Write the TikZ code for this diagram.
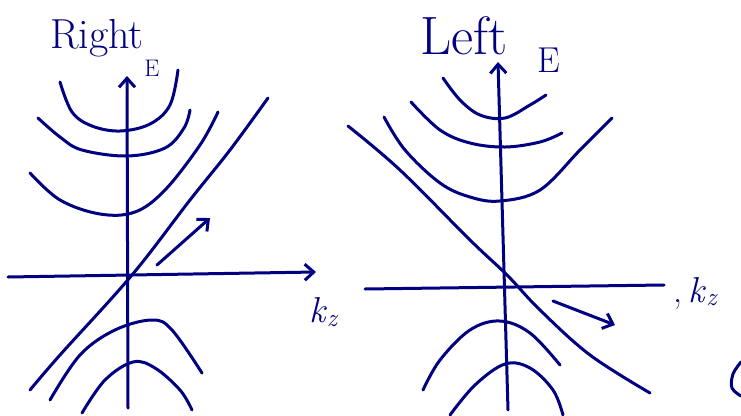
\documentclass[tikz,border=0pt]{standalone}
\usepackage{tikz}
\usetikzlibrary{arrows.meta,positioning}
\definecolor{ink}{RGB}{0,0,128}

\begin{document}
\begin{tikzpicture}[x=1pt,y=-1pt,
  every node/.style={text=ink},
  pen/.style={draw=ink, line width=3pt, line cap=round, line join=round},
  axis/.style={pen, -{Straight Barb[length=9pt,width=16pt]}},
  band/.style={pen, smooth, tension=0.6},
  >=Stealth
]
\useasboundingbox (0,0) rectangle (741,415);

% Right panel: axes
\coordinate (rEbot) at (128,408);
\coordinate (rEtop) at (127,76);
\coordinate (rKl) at (8,277);
\coordinate (rKr) at (316,272);
\draw[axis] (rEbot) -- (rEtop);
\draw[axis] (rKl) -- (rKr);
\node[font=\fontsize{42}{42}\selectfont] (rtitle) at (97,38) {Right};
\node[font=\fontsize{24}{24}\selectfont] (rE) at (152,68) {E};
\node[font=\fontsize{36}{36}\selectfont] (rk) at (324,312) {\textit{k}\textsubscript{\textit{z}}};

% Right panel: bands
\draw[band] plot coordinates {(60,82) (72,112) (92,126) (120,131) (150,124) (170,105) (178,70)};
\draw[band] plot coordinates {(38,118) (60,137) (82,150) (127,156) (165,148) (184,128) (190,110)};
\draw[band] plot coordinates {(30,173) (60,200) (100,214) (135,212) (165,190) (200,145) (218,112)};
\draw[band] plot coordinates {(268,98) (230,150) (190,200) (132,275) (60,355) (30,390)};
\draw[band] plot coordinates {(50,400) (80,355) (115,330) (152,320) (172,330) (202,373)};
\draw[band] plot coordinates {(82,413) (105,380) (133,362) (155,368) (180,390) (192,410)};

% Right panel: direction
\coordinate (ra) at (157,265);
\coordinate (rb) at (210,218);
\draw[axis] (ra) -- (rb);

% Left panel: axes
\coordinate (lEbot) at (508,410);
\coordinate (lEtop) at (498,62);
\coordinate (lKl) at (365,289);
\coordinate (lKr) at (664,285);
\draw[axis] (lEbot) -- (lEtop);
\draw[pen] (lKl) -- (lKr);
\node[font=\fontsize{54}{54}\selectfont] (ltitle) at (464,36) {Left};
\node[font=\fontsize{36}{36}\selectfont] (lE) at (549,60) {E};
\node[font=\fontsize{36}{36}\selectfont, anchor=west] (lk) at (670,293) {,\,\textit{k}\textsubscript{\textit{z}}};

% Left panel: bands
\draw[band] plot coordinates {(443,78) (460,100) (480,115) (505,118) (530,105) (546,95)};
\draw[band] plot coordinates {(411,102) (440,130) (470,143) (505,147) (540,142) (562,133)};
\draw[band] plot coordinates {(384,117) (405,150) (440,183) (470,197) (500,201) (540,190) (580,150) (612,118)};
\draw[band] plot coordinates {(348,126) (400,170) (470,240) (507,275) (540,310) (590,355) (650,393)};
\draw[band] plot coordinates {(423,390) (440,360) (470,330) (500,321) (530,333) (560,365)};
\draw[band] plot coordinates {(450,415) (475,385) (505,364) (530,368) (553,390) (563,415)};

% Left panel: direction
\coordinate (la) at (553,301);
\coordinate (lb) at (615,325);
\draw[axis] (la) -- (lb);

% cut-off stroke at the edge
\draw[band] plot coordinates {(741,362) (733,374) (732,388) (741,396)};

\end{tikzpicture}
\end{document}
